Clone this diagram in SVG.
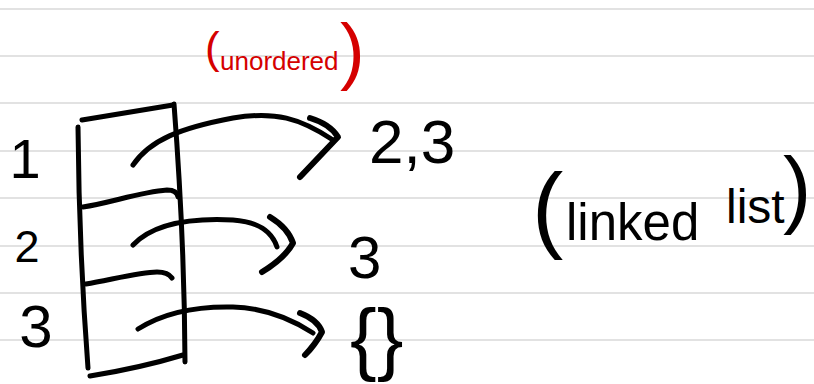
<svg xmlns="http://www.w3.org/2000/svg" width="814" height="384" viewBox="0 0 814 384">
  <style>
    .rule { stroke: #d9d9d9; stroke-width: 1.6; }
    .ink { fill: none; stroke: #000; stroke-width: 5; stroke-linecap: round; stroke-linejoin: round; }
    .head { fill: none; stroke: #000; stroke-width: 6; stroke-linecap: round; stroke-linejoin: round; }
    .hand { font-family: "Liberation Sans", "DejaVu Sans", sans-serif; fill: #000; }
    .red { fill: #d50000; }
  </style>
  <rect width="814" height="384" fill="#fff"/>

  <!-- notebook ruling -->
  <g id="ruling">
    <line class="rule" x1="0" y1="9" x2="814" y2="9"/>
    <line class="rule" x1="0" y1="56" x2="814" y2="56"/>
    <line class="rule" x1="0" y1="103" x2="814" y2="103"/>
    <line class="rule" x1="0" y1="151" x2="814" y2="151"/>
    <line class="rule" x1="0" y1="198" x2="814" y2="198"/>
    <line class="rule" x1="0" y1="246" x2="814" y2="246"/>
    <line class="rule" x1="0" y1="293" x2="814" y2="293"/>
    <line class="rule" x1="0" y1="340" x2="814" y2="340"/>
  </g>

  <!-- heading note -->
  <g id="note-unordered">
    <text class="hand red"><tspan x="205" y="63" font-size="44">(</tspan><tspan x="220" y="70" font-size="26">unordered</tspan><tspan x="340" y="76" font-size="74">)</tspan></text>
  </g>

  <!-- adjacency table -->
  <g id="table">
    <path class="ink" d="M78,127 Q79,250 88,368"/>
    <path class="ink" d="M82,120 Q130,112 173,105"/>
    <path class="ink" d="M174,104 Q184.5,240 185,362"/>
    <path class="ink" d="M90,376 Q140,368 183,355"/>
    <path class="ink" d="M83,207 C110,203 140,192 167,190 Q177,190 178,197"/>
    <path class="ink" d="M86,284 C110,280 140,272 157,272 Q168,272 172,278"/>
  </g>

  <!-- row labels -->
  <g id="row-1"><text class="hand" x="25" y="178" font-size="56" text-anchor="middle">1</text></g>
  <g id="row-2"><text class="hand" x="27" y="262" font-size="45" text-anchor="middle">2</text></g>
  <g id="row-3"><text class="hand" x="36" y="347" font-size="60" text-anchor="middle">3</text></g>

  <!-- neighbour lists -->
  <g id="list-1"><text class="hand" x="369" y="163" font-size="62">2,3</text></g>
  <g id="list-2"><text class="hand" x="348" y="278" font-size="60">3</text></g>
  <g id="list-3"><text class="hand" x="350" y="365" font-size="80">{}</text></g>

  <!-- side note -->
  <g id="note-linked-list">
    <text class="hand"><tspan x="532" y="240" font-size="94">(</tspan><tspan x="566" y="240" font-size="51">linked</tspan><tspan x="726" y="223" font-size="48">list</tspan><tspan x="783" y="217" font-size="85">)</tspan></text>
  </g>

  <!-- pointers from each row to its list -->
  <g id="connectors">
    <path class="ink" d="M133,165 C150,140 180,128 233,118 C275,111 300,118 333,140"/>
    <path class="head" stroke-width="8" d="M310,118 Q330,124 338,137 L300,177"/>
    <path class="ink" d="M133,245 C155,222 195,218 233,220 C260,222 272,232 277,247"/>
    <path class="head" d="M270,217 Q288,228 293,243 Q285,258 262,272"/>
    <path class="ink" d="M138,329 C160,315 190,306 233,307 C265,308 290,318 313,333"/>
    <path class="head" d="M300,313 Q318,320 322,332 Q315,345 305,355"/>
  </g>
</svg>
